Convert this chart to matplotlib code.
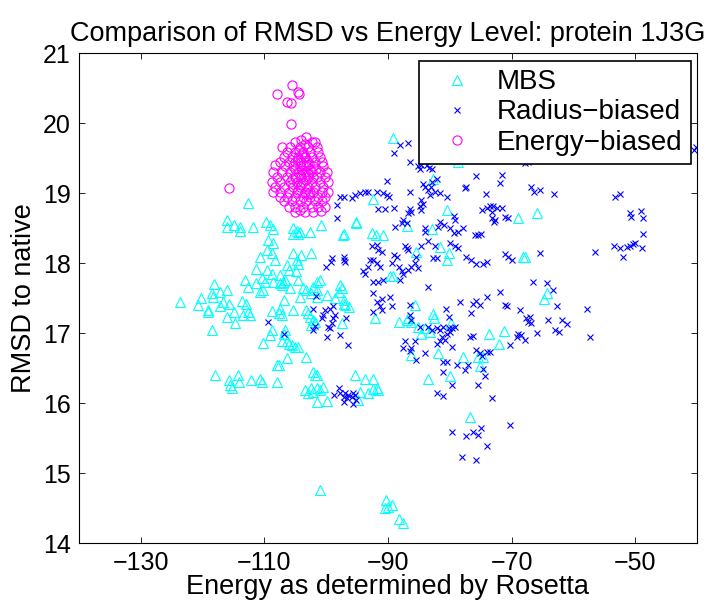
import matplotlib
matplotlib.use("Agg")
import matplotlib.pyplot as plt

plt.rcParams['font.family'] = ['Liberation Sans', 'DejaVu Sans']

# (energy, rmsd) pairs for each sampling strategy
mbs_points = [
    (-112.6, 18.86), (-116.1, 18.62), (-116.1, 18.52), (-115.0, 18.54), (-114.0, 18.52), (-113.9, 18.46),
    (-111.9, 18.52), (-109.7, 18.59), (-109.1, 18.54), (-108.6, 18.48), (-109.4, 18.33), (-108.6, 18.28),
    (-109.6, 18.19), (-108.8, 18.14), (-110.7, 18.09), (-108.3, 18.04), (-111.3, 17.92), (-109.6, 17.90),
    (-108.8, 17.85), (-110.4, 17.78), (-109.9, 17.73), (-108.6, 17.73), (-113.1, 17.76), (-112.6, 17.66),
    (-111.3, 17.71), (-110.7, 17.59), (-110.3, 17.62), (-118.1, 17.70), (-118.4, 17.57), (-117.2, 17.58),
    (-116.1, 17.62), (-120.2, 17.50), (-120.8, 17.40), (-119.1, 17.33), (-119.2, 17.30), (-123.7, 17.45),
    (-118.3, 17.52), (-117.2, 17.38), (-116.7, 17.45), (-115.8, 17.41), (-116.1, 17.23), (-114.8, 17.15),
    (-115.0, 17.30), (-113.7, 17.46), (-113.4, 17.26), (-112.9, 17.42), (-112.6, 17.30), (-112.3, 17.26),
    (-118.5, 17.04), (-110.3, 16.86), (-108.7, 17.32), (-108.8, 17.04), (-109.1, 16.97), (-107.9, 16.54),
    (-118.0, 16.40), (-115.8, 16.33), (-115.5, 16.26), (-115.3, 16.21), (-114.2, 16.40), (-114.1, 16.30),
    (-112.1, 16.33), (-110.7, 16.34), (-110.4, 16.30), (-108.0, 16.30),
    (-105.3, 18.50), (-104.8, 18.46), (-104.2, 18.45), (-105.3, 18.42), (-104.5, 18.42), (-102.6, 18.45),
    (-100.9, 18.54), (-97.3, 18.40), (-95.1, 18.59), (-105.3, 18.14), (-104.0, 18.11), (-102.4, 18.14),
    (-104.8, 18.04), (-104.5, 17.99), (-106.4, 17.97), (-106.1, 17.90), (-104.9, 17.88), (-107.5, 17.83),
    (-107.0, 17.73), (-106.7, 17.76), (-107.5, 17.71), (-107.2, 17.69), (-104.5, 17.76), (-105.9, 17.64),
    (-104.2, 17.52), (-103.7, 17.64), (-103.2, 17.61), (-102.1, 17.66), (-101.5, 17.61), (-101.0, 17.76),
    (-101.5, 17.73), (-102.4, 17.57), (-101.5, 17.52), (-99.9, 17.54), (-98.6, 17.50), (-97.8, 17.69),
    (-97.5, 17.64), (-98.0, 17.59), (-106.9, 17.47), (-107.5, 17.35), (-107.7, 17.28), (-107.2, 17.26),
    (-105.3, 17.33), (-102.9, 17.28), (-102.6, 17.23), (-102.1, 17.19), (-102.4, 17.11), (-101.8, 17.16),
    (-103.2, 17.33), (-106.7, 17.04), (-106.9, 16.99), (-106.4, 16.88), (-106.1, 16.85), (-105.6, 16.83),
    (-105.0, 16.80), (-104.5, 16.80), (-107.2, 16.88), (-103.2, 16.66), (-106.4, 16.64), (-107.7, 16.54),
    (-102.1, 16.45), (-101.8, 16.40), (-101.5, 16.40), (-95.3, 16.40),
    (-103.4, 16.19), (-102.9, 16.15), (-102.4, 16.21), (-101.5, 16.22), (-101.0, 16.19), (-100.5, 16.23),
    (-102.1, 16.16), (-101.5, 16.02), (-99.9, 16.03), (-93.7, 16.34), (-92.5, 16.34), (-94.5, 16.16),
    (-93.2, 16.14), (-92.4, 16.20), (-91.8, 16.21), (-91.6, 16.19), (-94.8, 16.04), (-101.0, 14.76),
    (-90.3, 14.61), (-90.0, 14.52), (-89.4, 14.54), (-90.5, 14.50), (-88.3, 14.35), (-87.6, 14.28),
    (-89.2, 19.78), (-92.4, 18.91), (-82.7, 19.20), (-80.5, 18.76), (-95.1, 18.57), (-97.1, 18.42),
    (-92.6, 18.43), (-91.9, 18.40), (-90.8, 18.40), (-87.0, 18.53), (-82.9, 18.48), (-81.6, 18.23),
    (-85.5, 18.16), (-80.2, 18.14), (-80.4, 18.04), (-68.9, 18.65), (-65.9, 18.71), (-68.2, 18.09),
    (-67.8, 18.09), (-89.7, 17.82), (-89.2, 17.81), (-78.7, 19.45),
    (-97.2, 17.47), (-97.0, 17.40), (-96.3, 17.37), (-97.1, 17.42), (-97.5, 17.14), (-92.1, 17.22),
    (-88.2, 17.16), (-86.7, 17.21), (-85.6, 17.40), (-87.0, 17.19), (-86.3, 17.16), (-85.1, 17.09),
    (-84.6, 16.99), (-84.0, 17.07), (-82.7, 17.27), (-82.5, 17.21), (-83.2, 17.02), (-81.9, 16.72),
    (-80.0, 16.38), (-79.8, 17.14), (-83.5, 16.34), (-86.2, 16.69), (-77.8, 16.66), (-73.6, 16.99),
    (-71.2, 17.03), (-72.0, 16.85), (-75.4, 16.66), (-74.6, 16.66), (-75.1, 16.53), (-64.3, 17.57),
    (-64.7, 17.48), (-76.8, 15.80),
]

radius_points = [
    (-98.3, 18.83), (-98.3, 18.64), (-99.1, 18.07), (-99.3, 18.02), (-100.1, 17.95), (-97.2, 18.09),
    (-97.0, 18.02), (-97.1, 18.04), (-101.7, 17.53), (-98.85, 17.39), (-99.4, 17.35), (-100.2, 17.33),
    (-102.1, 17.35), (-100.5, 17.26), (-100.7, 17.21), (-98.6, 17.26), (-98.85, 17.21), (-99.1, 17.14),
    (-99.7, 17.09), (-99.4, 17.07), (-101.8, 17.10), (-102.1, 17.05), (-96.8, 17.21), (-97.8, 16.97),
    (-99.9, 16.94), (-96.5, 16.83), (-106.9, 16.99), (-109.4, 17.16),
    (-97.9, 16.21), (-98.8, 16.11), (-97.8, 16.14), (-97.2, 16.09), (-97.0, 16.14), (-96.4, 16.11),
    (-96.7, 16.07), (-95.9, 16.09), (-95.6, 16.14), (-95.35, 16.11), (-95.6, 15.99), (-97.2, 16.02),
    (-95.2, 16.05),
    (-88.1, 19.69), (-86.7, 19.72), (-89.1, 19.57), (-86.4, 19.45), (-85.1, 19.38), (-84.6, 19.40),
    (-83.7, 19.40), (-82.9, 19.35), (-84.8, 19.35), (-83.3, 19.36), (-90.2, 19.17), (-84.4, 19.13),
    (-84.0, 19.08), (-83.6, 19.04), (-83.1, 19.09), (-83.2, 18.97), (-82.4, 19.02), (-82.9, 19.16),
    (-82.1, 19.20), (-97.8, 18.95), (-97.2, 18.95), (-95.9, 18.93), (-95.3, 18.97), (-94.5, 19.00),
    (-93.7, 19.01), (-93.2, 19.02), (-91.8, 19.02), (-90.8, 19.00), (-90.2, 18.97), (-89.9, 18.95),
    (-86.4, 19.02), (-81.6, 19.00), (-80.5, 18.95), (-75.7, 19.24), (-71.6, 19.26), (-71.9, 19.14),
    (-77.5, 19.07), (-77.3, 19.08), (-74.1, 18.99), (-66.8, 19.08), (-66.4, 19.02), (-91.6, 18.77),
    (-90.5, 18.77), (-89.1, 18.78), (-86.4, 18.77), (-86.2, 18.73), (-86.7, 18.71), (-84.8, 18.81),
    (-84.6, 18.76), (-84.3, 18.85), (-84.6, 18.90), (-81.6, 18.59), (-81.9, 18.52), (-81.0, 18.54),
    (-79.2, 18.61), (-79.4, 18.67), (-74.8, 18.76), (-74.0, 18.78), (-73.5, 18.81), (-73.0, 18.82),
    (-73.1, 18.73), (-72.4, 18.78), (-71.6, 18.79), (-73.2, 18.64), (-72.7, 18.62), (-72.8, 18.58),
    (-71.1, 18.66), (-70.5, 18.64), (-88.9, 18.52), (-87.8, 18.57), (-87.0, 18.57), (-87.5, 18.61),
    (-84.0, 18.50), (-84.0, 18.45), (-80.0, 18.50), (-77.8, 18.50), (-78.6, 18.45), (-79.4, 18.43),
    (-75.9, 18.40), (-75.4, 18.40), (-74.9, 18.42), (-92.6, 18.24), (-91.8, 18.26), (-91.6, 18.19),
    (-91.0, 18.16), (-87.3, 18.24), (-87.0, 18.21), (-86.7, 18.19), (-84.6, 18.24), (-83.5, 18.31),
    (-82.4, 18.24), (-80.0, 18.28), (-79.2, 18.24), (-78.6, 18.21), (-89.1, 18.12), (-88.6, 18.09),
    (-89.4, 18.00), (-85.4, 18.09), (-85.6, 18.00), (-86.2, 17.95), (-86.7, 17.90), (-85.1, 17.93),
    (-82.7, 18.07), (-82.1, 18.07), (-77.3, 18.09), (-76.5, 18.04), (-75.7, 17.99), (-74.6, 17.99),
    (-74.0, 18.02), (-71.1, 18.13), (-70.5, 18.08), (-70.0, 18.05), (-92.9, 18.05), (-92.4, 18.05),
    (-91.8, 18.00), (-91.3, 17.95), (-93.2, 17.95), (-93.7, 17.85), (-94.0, 17.88), (-88.3, 17.95),
    (-87.8, 17.88), (-87.5, 17.85), (-88.1, 17.76), (-92.4, 17.73), (-91.6, 17.73), (-90.8, 17.76),
    (-83.5, 17.66), (-66.5, 17.73), (-92.4, 17.57), (-89.7, 17.52), (-91.0, 17.48), (-74.0, 17.52),
    (-71.9, 17.58),
    (-92.4, 17.30), (-91.8, 17.45), (-91.3, 17.38), (-91.0, 17.33), (-89.4, 17.38), (-86.4, 17.40),
    (-86.2, 17.19), (-86.4, 17.26), (-80.6, 17.34), (-80.2, 17.23), (-78.4, 17.45), (-76.6, 17.28),
    (-76.3, 17.41), (-75.7, 17.46), (-75.1, 17.40), (-71.1, 17.40), (-70.8, 17.38), (-68.6, 17.33),
    (-67.0, 17.23), (-67.3, 17.16), (-66.8, 17.14), (-67.6, 17.21), (-65.9, 17.00), (-64.1, 17.19),
    (-63.0, 17.04), (-62.4, 17.02), (-62.7, 17.38), (-68.9, 16.99), (-68.4, 16.97), (-67.8, 16.90),
    (-69.2, 16.95), (-70.3, 16.83), (-76.7, 16.95), (-76.2, 16.96), (-84.8, 17.09), (-83.5, 17.09),
    (-82.9, 17.04), (-82.1, 17.07), (-81.6, 17.04), (-81.05, 17.09), (-80.2, 17.07), (-80.5, 16.99),
    (-80.0, 17.02), (-79.7, 17.07), (-79.2, 17.09), (-81.3, 16.95), (-80.8, 16.90), (-82.1, 16.85),
    (-79.7, 16.80), (-81.6, 16.88), (-87.3, 16.88), (-87.5, 16.78), (-86.2, 16.78), (-86.4, 16.75),
    (-85.6, 16.88), (-85.4, 16.61), (-84.0, 16.71), (-81.05, 16.59), (-80.5, 16.59), (-81.05, 16.45),
    (-78.9, 16.54), (-77.5, 16.47), (-77.0, 16.54), (-75.7, 16.76), (-75.1, 16.72), (-74.0, 16.73),
    (-73.5, 16.73), (-74.8, 16.67), (-74.6, 16.49), (-74.3, 16.38), (-75.4, 16.26), (-79.7, 16.26),
    (-82.1, 16.15), (-81.05, 16.10), (-73.2, 16.07), (-79.7, 15.59), (-77.3, 15.53), (-76.2, 15.59),
    (-75.4, 15.54), (-74.9, 15.64), (-74.0, 15.38), (-78.1, 15.23), (-75.7, 15.19), (-70.2, 15.68),
    (-57.85, 17.34), (-57.3, 16.95), (-61.9, 17.19), (-61.1, 17.13), (-64.3, 17.72), (-63.35, 17.62),
    (-65.4, 19.05), (-63.2, 18.98), (-53.3, 18.94), (-52.5, 18.99), (-50.9, 18.71), (-50.6, 18.66),
    (-49.1, 18.74), (-48.7, 18.64), (-48.7, 18.41), (-53.5, 18.24), (-52.5, 18.21), (-51.9, 18.09),
    (-51.4, 18.23), (-50.8, 18.24), (-50.3, 18.27), (-50.0, 18.28), (-48.95, 18.22), (-56.5, 18.16),
    (-65.4, 18.15), (-40.2, 19.66), (-40.5, 19.62), (-67.3, 19.45), (-67.8, 19.43),
]

energy_points = [
    (-105.6, 20.55), (-107.9, 20.41), (-104.6, 20.44), (-104.4, 20.42), (-106.4, 20.30), (-105.75, 20.28),
    (-105.7, 19.98), (-115.8, 19.07),
    (-103.2, 19.80), (-104.0, 19.76),
    (-105.05, 19.73), (-102.35, 19.73), (-101.8, 19.73), (-103.5, 19.70),
    (-107.2, 19.66), (-105.9, 19.66), (-104.2, 19.66), (-102.9, 19.66), (-101.55, 19.66),
    (-106.4, 19.59), (-105.05, 19.59), (-103.7, 19.59), (-102.6, 19.59), (-101.3, 19.59), (-104.4, 19.62),
    (-106.9, 19.52), (-105.6, 19.52), (-104.5, 19.52), (-103.4, 19.52), (-102.35, 19.52), (-101.0, 19.52),
    (-107.5, 19.45), (-106.1, 19.45), (-105.05, 19.45), (-104.0, 19.45), (-102.9, 19.45), (-101.8, 19.45),
    (-100.7, 19.45), (-108.3, 19.40),
    (-106.7, 19.38), (-105.3, 19.38), (-104.2, 19.38), (-103.2, 19.38), (-102.1, 19.38), (-100.5, 19.38),
    (-108.6, 19.30), (-107.2, 19.30), (-105.9, 19.30), (-104.5, 19.30), (-103.4, 19.30), (-102.35, 19.30),
    (-101.0, 19.30), (-99.9, 19.30),
    (-108.0, 19.23), (-106.4, 19.23), (-105.05, 19.23), (-104.0, 19.23), (-102.9, 19.23), (-101.55, 19.23),
    (-100.2, 19.23),
    (-108.8, 19.16), (-107.5, 19.16), (-105.9, 19.16), (-104.8, 19.16), (-103.7, 19.16), (-102.35, 19.16),
    (-101.0, 19.16), (-99.7, 19.16),
    (-108.3, 19.09), (-106.9, 19.09), (-105.3, 19.09), (-104.2, 19.09), (-102.9, 19.09), (-101.8, 19.09),
    (-100.5, 19.09),
    (-108.6, 19.02), (-107.5, 19.02), (-106.1, 19.02), (-104.8, 19.02), (-103.4, 19.02), (-102.1, 19.02),
    (-100.7, 19.02), (-99.7, 19.02),
    (-107.5, 18.95), (-106.4, 18.95), (-105.05, 18.95), (-103.7, 18.95), (-102.6, 18.95), (-101.3, 18.95),
    (-100.2, 18.95),
    (-106.9, 18.88), (-105.6, 18.88), (-104.2, 18.88), (-103.2, 18.88), (-101.8, 18.88), (-100.7, 18.88),
    (-106.1, 18.80), (-105.05, 18.80), (-103.7, 18.80), (-102.35, 18.80), (-101.3, 18.80), (-100.2, 18.80),
    (-105.05, 18.73), (-103.4, 18.73), (-102.1, 18.73), (-104.2, 18.76), (-100.9, 18.74),
    (-104.5, 19.47), (-103.7, 19.40), (-102.6, 19.33), (-104.2, 19.26), (-103.2, 19.19), (-105.05, 19.35),
    (-102.1, 19.23), (-103.4, 19.52), (-104.0, 19.11), (-102.6, 19.02), (-103.9, 19.56), (-102.8, 19.42),
    (-103.0, 19.27), (-103.9, 19.33), (-104.6, 19.05), (-103.0, 18.99), (-101.6, 19.35), (-105.5, 19.20),
]

mbs_energy, mbs_rmsd = zip(*mbs_points)
radius_energy, radius_rmsd = zip(*radius_points)
energy_energy, energy_rmsd = zip(*energy_points)

fig = plt.figure(figsize=(7.15, 6.03), dpi=100)
ax = fig.add_axes([0.1105, 0.0995, 0.8643, 0.8126])

ax.plot(mbs_energy, mbs_rmsd, linestyle='none', marker='^', markersize=7.2,
        markerfacecolor='none', markeredgecolor=(0, 1, 1), markeredgewidth=0.8, label='MBS')
ax.plot(radius_energy, radius_rmsd, linestyle='none', marker='x', markersize=4.8,
        color=(0, 0, 1), markeredgewidth=0.8, label='Radius\u2212biased')
ax.plot(energy_energy, energy_rmsd, linestyle='none', marker='o', markersize=6.6,
        markerfacecolor='none', markeredgecolor=(1, 0, 1), markeredgewidth=0.8, label='Energy\u2212biased')

ax.set_xlim(-140, -40)
ax.set_ylim(14, 21)
ax.set_xticks([-130, -110, -90, -70, -50])
ax.set_yticks(range(14, 22))
ax.tick_params(direction='in', top=True, right=True, length=4, width=0.6, labelsize=18)
ax.tick_params(axis='x', pad=6)
ax.tick_params(axis='y', pad=6)
for spine in ax.spines.values():
    spine.set_linewidth(0.8)

ax.set_title('Comparison of RMSD vs Energy Level: protein 1J3G', fontsize=19.5, pad=9)
ax.set_xlabel('Energy as determined by Rosetta', fontsize=19.5, labelpad=-1)
ax.set_ylabel('RMSD to native', fontsize=19.5, labelpad=4)

leg = ax.legend(loc='upper right', bbox_to_anchor=(0.9903, 0.9837), borderaxespad=0,
                fontsize=20, fancybox=False, framealpha=1, edgecolor='black',
                numpoints=1, handlelength=2.1, handletextpad=0.4, labelspacing=0.15,
                borderpad=0.3)
leg.get_frame().set_linewidth(1.2)

fig.savefig('out.png', dpi=100)
